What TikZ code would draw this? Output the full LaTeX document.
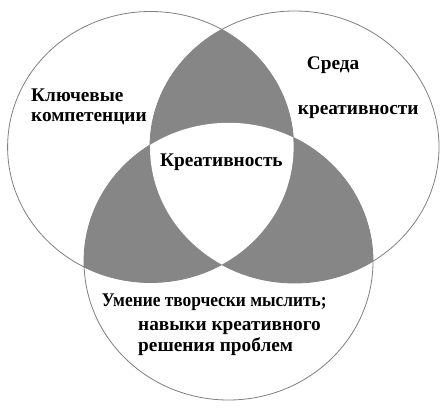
\documentclass[tikz,border=0pt]{standalone}
\usepackage{graphicx}
\usepackage{fontspec}
\setmainfont{Liberation Serif}
\definecolor{fillg}{RGB}{134,134,134}
\definecolor{lineg}{RGB}{128,128,128}
\tikzset{
  lbl/.style={font=\fontsize{19.3}{21}\selectfont\bfseries, inner sep=0pt, text=black},
  outline/.style={draw=lineg, line width=0.8pt},
}
\def\ellL{(150.6,147) ellipse [x radius=143pt, y radius=135.5pt]}
\def\ellR{(294.5,147) ellipse [x radius=144.5pt, y radius=136pt]}
\def\ellB{(228.5,261.4) ellipse [x radius=144.5pt, y radius=138.6pt]}
\begin{document}
\begin{tikzpicture}[x=1pt,y=-1pt]
\fill[white] (0,0) rectangle (446,414);
\useasboundingbox (0,0) rectangle (446,414);
% outlines
\draw[outline] \ellL;
\draw[outline] \ellR;
\draw[outline] \ellB;
% pairwise intersections
\begin{scope}\clip \ellL; \fill[fillg] \ellR; \end{scope}
\begin{scope}\clip \ellL; \fill[fillg] \ellB; \end{scope}
\begin{scope}\clip \ellR; \fill[fillg] \ellB; \end{scope}
% triple intersection
\begin{scope}\clip \ellL; \clip \ellR; \fill[white] \ellB; \end{scope}
% labels
\node[lbl, anchor=base west] (kl1) at (31,101.7) {Ключевые};
\node[lbl, anchor=base west] (kl2) at (31,121.7) {компетенции};
\node[lbl, anchor=base west] (sr1) at (306.7,70) {Среда};
\node[lbl, anchor=base west] (sr2) at (297.7,115) {креативности};
\node[lbl, anchor=base west] (kr) at (160,166) {Креативность};
\node[lbl, anchor=base west] (um1) at (101.7,306) {\scalebox{0.9}[1]{Умение творчески мыслить;}};
\node[lbl, anchor=base west] (um2) at (138,330.7) {навыки креативного};
\node[lbl, anchor=base west] (um3) at (138,351.7) {решения проблем};
\end{tikzpicture}
\end{document}
